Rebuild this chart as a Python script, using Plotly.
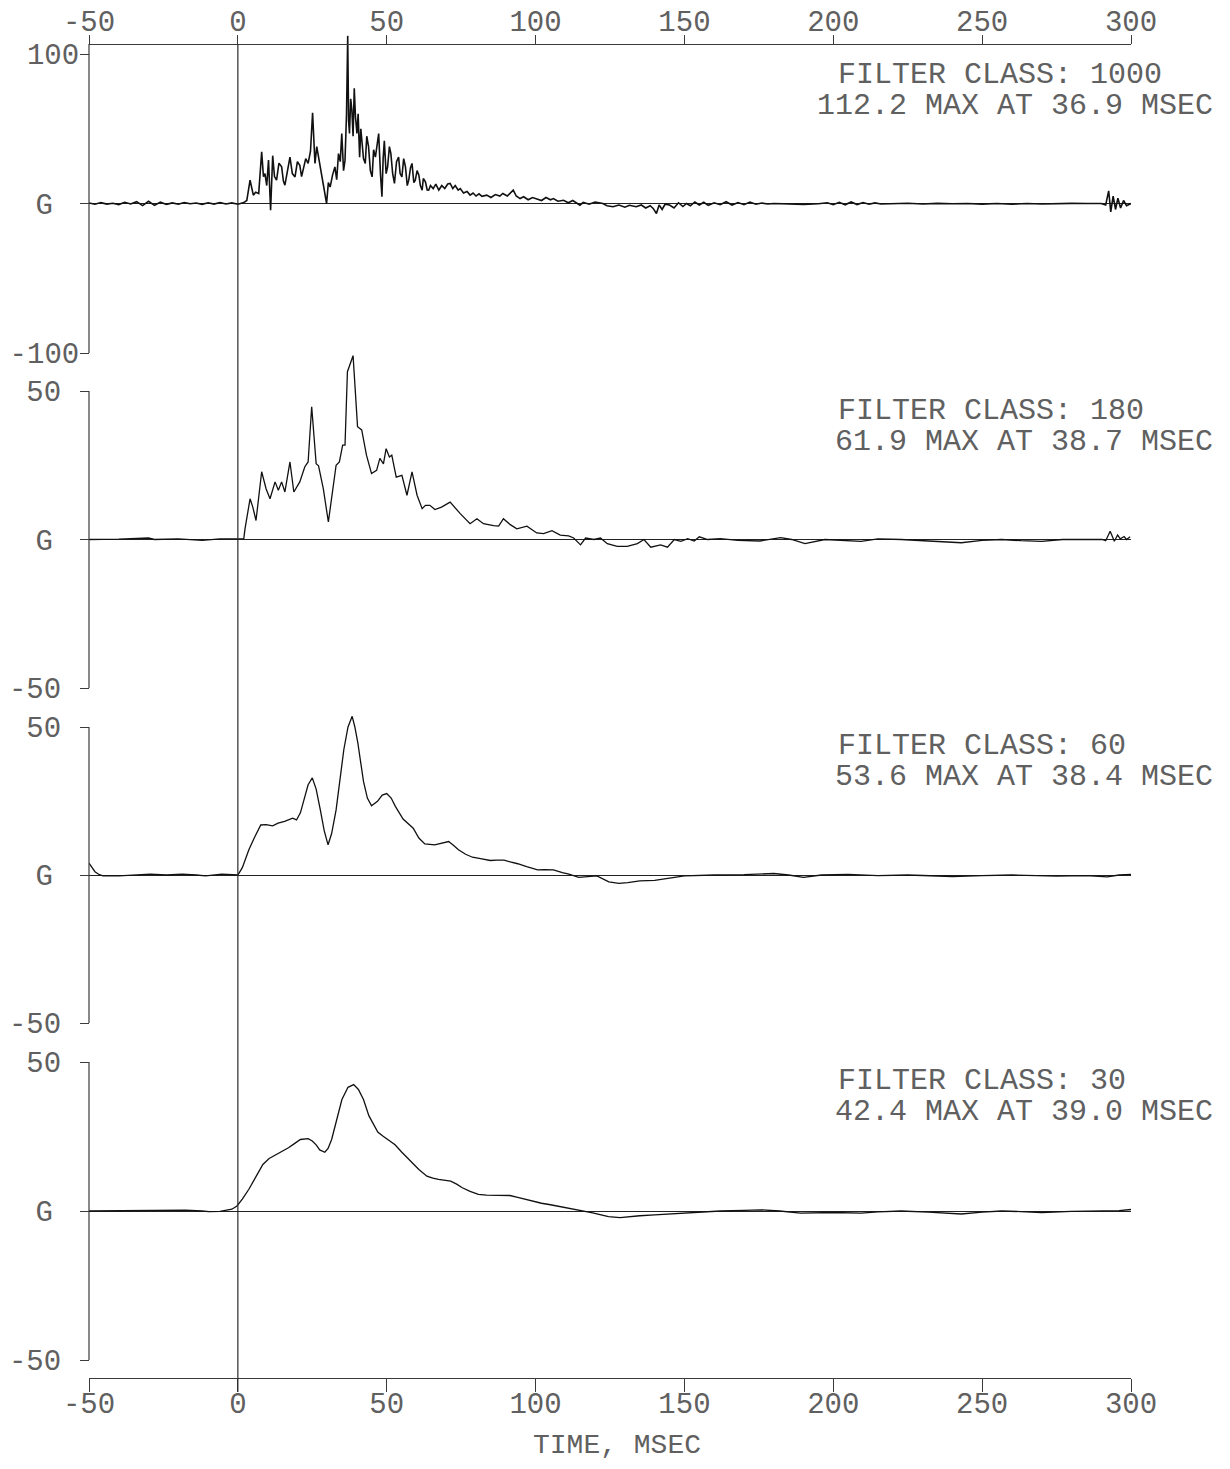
import plotly.graph_objects as go

# the page body adds an 8 px margin, so the figure is slightly smaller than the window
OFF = 8
W, H = 1230 - 2 * OFF, 1469 - 2 * OFF

# ---- data ----
t_1000 = [-50, -48, -46, -44, -42, -40, -38, -36, -34, -32, -30, -28, -26, -24, -22, -20,
          -18, -16, -14, -12, -10, -8, -6, -4, -2, 0, 2,
          3.0, 4.1, 5.2, 6.0, 7.0, 8.0, 8.6, 9.1, 9.7, 10.3, 11.0, 11.7, 12.3, 13.0, 13.8,
          14.7, 15.3, 15.8, 16.6, 17.5, 18.3, 19.2, 20.0, 20.8, 21.4, 21.9, 22.8, 23.6,
          24.4, 25.1, 25.9, 26.5, 27.1, 27.7, 28.2, 29.0, 29.8, 30.4, 31.0, 31.8, 32.6,
          33.2, 33.8, 34.4, 34.9, 35.5, 36.0, 36.5, 36.9, 37.2, 37.5, 37.9, 38.3, 38.7,
          39.1, 39.5, 40.0, 40.4, 40.9, 41.3, 41.7, 42.2, 42.8, 43.3, 43.9, 44.5, 45.1,
          45.6, 46.2, 46.7, 47.3, 47.9, 48.4, 48.8, 49.2, 49.8, 50.3, 50.9, 51.4, 52.0,
          52.6, 53.3, 54.0, 54.5, 55.1, 55.7, 56.3, 56.9, 57.4, 58.0, 58.5, 59.1, 59.6,
          60.2, 60.8, 61.3, 61.9, 62.3, 63.0, 63.6, 64.1, 64.7, 65.6, 66.5, 67.5, 68.5,
          69.5, 70.5, 71.3, 72.2, 73.0, 74.0, 74.7, 75.8, 77.0, 78.0, 79.0, 80.0, 81.0,
          82.0, 83.6, 85.0, 86.5, 88.0, 89.0, 90.5, 91.5, 92.5, 93.5, 94.8, 96.0, 97.5,
          99.0, 100.4, 102, 103.5, 105, 106, 107.5, 109.4, 111, 112.5, 114.9, 116, 118,
          120, 122.6, 124, 126, 128, 130, 131.5, 133.8, 135.5, 137, 138.5, 139.5, 140.6,
          141.5, 142.5, 143.5, 145, 146.5, 148, 149.5, 150.7, 152, 153.5, 155, 156.5, 158,
          160, 162, 164, 166, 168, 170, 172, 174, 176, 178, 180, 185, 190, 195, 198, 200,
          202, 204, 206, 208, 210, 212, 214, 216, 220, 225, 230, 235, 240, 245, 250, 255,
          260, 265, 270, 275, 280, 285, 290, 291.5, 292.5, 293.2, 294, 294.8, 295.6, 296.5,
          297.5, 298.5, 300]
g_1000 = [0.3, -0.5, 0.6, -0.4, 0.2, -0.7, 0.8, -0.3, 1.2, -1.4, 1.5, -1.2, 0.9, -0.6,
          0.4, -0.5, 0.6, -0.2, 0.3, -0.6, 0.5, -0.4, 0.7, -0.3, 0.4, -0.5, 0.6,
          2.0, 15.6, 5.6, 7.5, 6.7, 34.5, 18, 20, 12, 29, -4.5, 32, 18, 15.6, 27,
          24.5, 15, 12.3, 22, 31, 20, 17.8, 28, 25.6, 18, 22, 30, 26.8,
          35, 60.7, 26.8, 38, 31.2, 22, 17.8, 9, 0, 14, 11, 19, 24.5,
          16, 33.4, 28, 46.8, 22, 29, 60, 112.2, 55, 46.8, 70, 62.5, 45,
          77, 58, 46.8, 60, 31, 50, 42, 30, 26.8, 45, 38, 22, 17.8,
          36, 31, 40, 46.8, 20, 4.5, 30, 42, 20, 24.5, 38, 33.4, 20,
          13.4, 28, 31, 20, 17.8, 30, 24.5, 12, 15.6, 24, 26.8, 14, 15.6,
          22, 19, 12, 8.9, 16.7, 14.5, 9, 8.9, 12, 10, 13, 9, 12,
          10, 13, 13.4, 10, 12, 9, 10, 7, 8, 5.6, 7, 5, 6.5,
          4.8, 5.6, 4, 6, 5, 6.7, 5, 7, 8.9, 5, 3.3, 4.5, 2.5,
          4, 3.3, 2, 4, 2.5, 3.3, 1.5, 2.2, 0.5, 2, -1.1, 0.8, -0.5,
          1, 0, -1.5, -2.2, -1, -2.5, -1.2, -2.2, -1, -3, -1.5, -3.3, -6.7,
          -1, -4, -0.5, -1, -3, 0.5, -2, 0, -1.5, 1, -1, 0.8, -1.2,
          0.5, -0.8, 1.2, -1, 0.6, -0.8, 1, -0.5, 0.3, -0.3, 0, -0.4, -0.6, -0.2, 0.5, -0.8,
          0.8, -0.9, 1.0, -0.7, 0.6, -0.5, 0.4, -0.3, 0, 0.2, -0.3, 0.1, -0.2, 0, -0.4, 0,
          -0.5, 0, -0.3, 0, 0.1, 0, 0, -1, 8.5, -5.6, 5, -4, 3.5, -3,
          2, -1.5, 0]

t_180 = [-50, -40, -30, -28, -20, -12, -6, 0, 2,
         2.4, 4.1, 5.0, 6.1, 8.0, 9.5, 10.8, 12.5, 13.6, 14.7, 15.8, 17.5, 18.8, 20.8,
         22.5, 23.6, 24.8, 26.3, 27.1, 28.7, 30.4, 31.5, 33.0, 34.1, 35.2, 36.0, 36.8,
         38.7, 40.2, 41.6, 43.2, 44.9, 46.6, 47.7, 48.9, 49.8, 50.9, 51.7, 53.2, 55.1,
         56.8, 58.5, 60.2, 61.9, 63.0, 64.5, 66.2, 68.4, 71.3, 74.7, 78, 80.3, 82.5,
         85.9, 87.6, 89.2, 91.5, 93.7, 97.1, 100.4, 102.7, 105.5, 108.3, 111.1, 112.8,
         115.1, 116.8, 119.6, 121.8, 124.1, 127.4, 130.8, 134.2, 136.4, 138.7, 142.0,
         144.3, 146.6, 148.8, 151.1, 153.3, 155, 157.8, 162, 168, 175.4, 182.3, 186,
         190.5, 197.2, 209.3, 215, 222.8, 232, 243, 250, 256.5, 263, 270, 277, 283.5,
         290.3, 291.5, 293, 294.4, 295.5, 296.4, 297.7, 298.5, 299.7]
g_180 = [0, 0.1, 0.5, 0, 0.2, -0.3, 0.2, 0.3, 0.3,
         3.6, 13.7, 11, 6.4, 22.8, 17, 13.7, 19.4, 16.6, 19.4, 16, 26.1, 16, 19.4,
         24.5, 26.1, 44.7, 25.5, 24.8, 17.1, 5.9, 13.7, 25, 26.1, 31.8, 31.8, 56.5,
         61.9, 38, 36.9, 28.4, 22.2, 23.3, 27.3, 25.5, 30.6, 27.8, 28.4, 21, 21.6,
         14.9, 22.8, 14.9, 10.4, 11.5, 11.5, 10.1, 10.9, 12.6, 8.7, 5.3, 7.0, 5.3,
         4.7, 4.5, 7.0, 5.0, 3.6, 4.5, 2.2, 2, 3, 1.5, 1.2, 0.5,
         -1.8, 0.5, 0, 0.5, -1.4, -2.3, -2.3, -1.4, 0, -2.6, -1.8,
         -2.6, 0, -0.6, 0.3, -0.5, 0.9, 0, 0.3, -0.3, -0.5, 0.6, 0,
         -1.4, 0, -0.6, 0.2, 0, -0.5, -1.1, -0.3, 0, -0.4, -0.6, 0, 0,
         0, -0.4, 2.8, -0.6, 1.5, 0.2, 1.0, 0, 0.9]

t_60 = [-50, -49, -48, -46.5, -45.3, -39.9, -35, -29.4, -24, -18.7, -14, -10.8, -5.4, -2, 0,
        1.5, 3.7, 5.5, 7.7, 9.5, 11.7, 13.5, 15.7, 18.4, 19.7, 21.0, 22.1, 23.6, 25.0,
        26.3, 27.7, 29, 30.3, 31.5, 33.0, 34.3, 35.6, 37.0, 38.4, 39.3, 40.3, 42.2,
        43.5, 44.9, 46.0, 46.9, 48.5, 50.0, 51.5, 52.9, 55.5, 58.9, 60.8, 62.8, 66.1,
        68.5, 70.8, 72.5, 74.1, 76.5, 78.8, 81.5, 84.8, 87, 89.4, 91.5, 94.0, 97,
        100.7, 103, 106, 109, 111.2, 114.5, 117, 120.6, 124.6, 128, 131, 135, 140,
        145, 150, 160, 170, 180, 185, 190, 196, 205, 215, 225, 240, 250, 260, 275,
        285, 292, 296, 300]
g_60 = [4, 2.5, 1.1, 0.1, -0.3, -0.3, 0, 0.3, 0, 0.3, 0, -0.3, 0.3, 0.2, 0,
        2.5, 8.5, 12.5, 16.9, 17, 16.6, 17.5, 18.1, 19.2, 18.6, 21, 25.4, 30.5, 32.8,
        29, 22, 15, 10.2, 14, 22, 33, 42.4, 50, 53.6, 50, 44.6, 31.6,
        26, 23.4, 24.2, 24.9, 27, 27.5, 26, 23.2, 18.9, 15.8, 12.5, 10.5, 10.2,
        10.8, 11.3, 10, 8.5, 7, 6, 5.5, 4.9, 5, 5, 4.4, 3.8, 2.8,
        1.7, 1.8, 1.7, 0.8, 0.3, -0.8, -0.5, -0.3, -2.3, -2.8, -2.6, -2.0, -1.8,
        -1.0, -0.3, 0, 0.1, 0.5, 0, -0.8, 0, 0.2, -0.2, 0, -0.5, -0.2, 0, -0.4,
        -0.2, -0.6, 0, 0.2]

t_30 = [-50, -40, -30, -17.6, -12, -9.7, -6, -4.4, -2, -0.3, 1.5, 3.7, 6, 8.4, 10.5, 13,
        15, 17, 19, 21.0, 23.6, 25, 26.3, 27.5, 29.2, 30.3, 31.5, 33, 34.95, 37, 38.9,
        40.5, 42.2, 44, 45.6, 47, 48.8, 50.5, 52.8, 55, 56.9, 58.9, 60.8, 63.5, 65.5,
        67.4, 69.5, 71.5, 73.5, 75.4, 78, 80.8, 83.5, 86.1, 89, 91.4, 94, 96.7, 99.5,
        102, 105, 107.3, 110, 112.6, 116, 119.2, 122, 124.5, 128.4, 132, 135, 140,
        148.6, 155, 162, 170, 175.6, 182, 189, 200, 209.3, 215, 222.8, 232, 243, 250,
        256.5, 263, 270, 280, 290, 296, 300]
g_30 = [0, 0.1, 0.1, 0.3, 0, -0.2, -0.1, 0.2, 0.6, 1.7, 4, 7.3, 11.5, 15.6, 17.6, 19,
        20, 21.2, 22.6, 24, 24.3, 23.5, 22.2, 20.5, 19.7, 21, 24, 30, 37.4, 41.5, 42.4,
        40.8, 37.4, 32, 29, 26.5, 25.1, 23.8, 22.2, 19.8, 17.8, 15.8, 13.9, 11.7, 11,
        10.6, 10.4, 10, 9, 7.8, 6.6, 5.6, 5.3, 5.2, 5.3, 5.2, 4.6, 3.9, 3.2,
        2.6, 2.1, 1.7, 1.1, 0.6, 0, -0.6, -1.3, -1.9, -2.2, -2.0, -1.6, -1.3,
        -0.7, -0.3, 0, 0.2, 0.4, 0, -0.7, -0.5, -0.7, -0.3, 0, -0.4, -1, -0.4,
        0, -0.2, -0.5, -0.1, 0, 0.1, 0.5]

x_ticks = [-50, 0, 50, 100, 150, 200, 250, 300]
filter_lines = ["FILTER CLASS: 1000", "FILTER CLASS: 180", "FILTER CLASS: 60", "FILTER CLASS: 30"]
max_lines = ["112.2 MAX AT 36.9 MSEC", "61.9 MAX AT 38.7 MSEC",
             "53.6 MAX AT 38.4 MSEC", "42.4 MAX AT 39.0 MSEC"]

FONT = "Liberation Mono"
TXT = "#606060"
AX = "#3a3a3a"


def py(p):
    # screenshot pixel row -> paper fraction
    return 1 - (p - OFF) / H


def px(p):
    return (p - OFF) / W


def pad(txt, n, size=22):
    return txt + f'<span style="font-size:{size}px">' + "\u00a0" * n + "</span>"


def dom(p_hi, p_lo, v_hi, v_lo, r_top):
    s = (p_lo - p_hi) / (v_hi - v_lo)
    return [py(p_lo), py(p_hi - (r_top - v_hi) * s)]


small = [pad("-50", 1, 30), pad("G", 2), pad("50", 1, 30)]
# (tick px top, tick px bottom, tick values, tick text, range, axis line px, text row px)
panels = [
    (54, 353, [-100, 0, 100], ["-100", pad("G", 2), "100"], [-100, 112.5], (44, 353), 75),
    (391, 688, [-50, 0, 50], small, [-50, 63], (391, 688), 411),
    (727, 1023, [-50, 0, 50], small, [-50, 56], (727, 1023), 746),
    (1062, 1360, [-50, 0, 50], small, [-50, 50], (1062, 1360), 1081),
]
series = [(t_1000, g_1000, 1.6), (t_180, g_180, 1.3), (t_60, g_60, 1.3), (t_30, g_30, 1.3)]

fig = go.Figure()
x_dom = [px(89), px(1131)]

for i, ((tt, gg, lw), (p_hi, p_lo, tv, ttxt, rng, aline, row)) in enumerate(zip(series, panels)):
    yname = "y" if i == 0 else f"y{i + 1}"
    fig.add_trace(go.Scatter(x=tt, y=gg, mode="lines", xaxis="x", yaxis=yname,
                             line=dict(color="#111111", width=lw), showlegend=False,
                             hoverinfo="skip"))
    key = "yaxis" if i == 0 else f"yaxis{i + 1}"
    fig.layout[key] = dict(
        domain=dom(p_hi, p_lo, tv[-1], tv[0], rng[1]), range=rng, anchor="free",
        position=x_dom[0], showline=False, showgrid=False,
        zeroline=True, zerolinecolor="#222222", zerolinewidth=1.2,
        ticks="outside", ticklen=9, tickcolor=AX, tickwidth=1.2,
        tickmode="array", tickvals=tv, ticktext=ttxt, ticklabelstandoff=-5,
        tickfont=dict(family=FONT, size=29, color=TXT), automargin=False,
    )
    # left axis spine
    fig.add_shape(type="line", xref="paper", yref="paper", x0=x_dom[0], x1=x_dom[0],
                  y0=py(aline[1]), y1=py(aline[0]), line=dict(color=AX, width=1.2))
    fig.add_annotation(text=filter_lines[i], xref="paper", yref="paper", x=px(836), y=py(row),
                       xanchor="left", yanchor="middle", showarrow=False,
                       font=dict(family=FONT, size=30, color=TXT))
    fig.add_annotation(text=max_lines[i], xref="paper", yref="paper", x=px(1215),
                       y=py(row + 31), xanchor="right", yanchor="middle", showarrow=False,
                       font=dict(family=FONT, size=30, color=TXT))

# invisible carrier so the top time axis gets drawn
fig.add_trace(go.Scatter(x=[-50, 300], y=[0, 0], mode="lines", xaxis="x2", yaxis="y",
                         line=dict(color="rgba(0,0,0,0)", width=0), showlegend=False,
                         hoverinfo="skip"))

axis_common = dict(
    domain=x_dom, range=[-50, 300], tickmode="array", tickvals=x_ticks,
    ticktext=[str(v) for v in x_ticks], showline=True, linecolor=AX, linewidth=1.2,
    showgrid=False, zeroline=False, ticks="outside", tickcolor=AX, tickwidth=1.2,
    tickfont=dict(family=FONT, size=29, color=TXT), automargin=False, anchor="free",
)
fig.update_layout(
    xaxis=dict(axis_common, side="bottom", position=py(1378), ticklen=13,
               ticklabelstandoff=-14),
    xaxis2=dict(axis_common, side="top", position=py(44), ticklen=9, overlaying="x",
                ticklabelstandoff=-8),
)

fig.add_annotation(text="TIME, MSEC", xref="paper", yref="paper", x=px(617), y=py(1445),
                   xanchor="center", yanchor="middle", showarrow=False,
                   font=dict(family=FONT, size=28, color=TXT))

# reference line at time zero
fig.add_shape(type="line", xref="x", yref="paper", x0=0, x1=0, y0=py(1392), y1=py(44),
              line=dict(color="#2a2a2a", width=1.2))

fig.update_layout(
    width=W, height=H, margin=dict(l=0, r=0, t=0, b=0),
    paper_bgcolor="white", plot_bgcolor="white", showlegend=False,
)

fig.write_html("out.html")
